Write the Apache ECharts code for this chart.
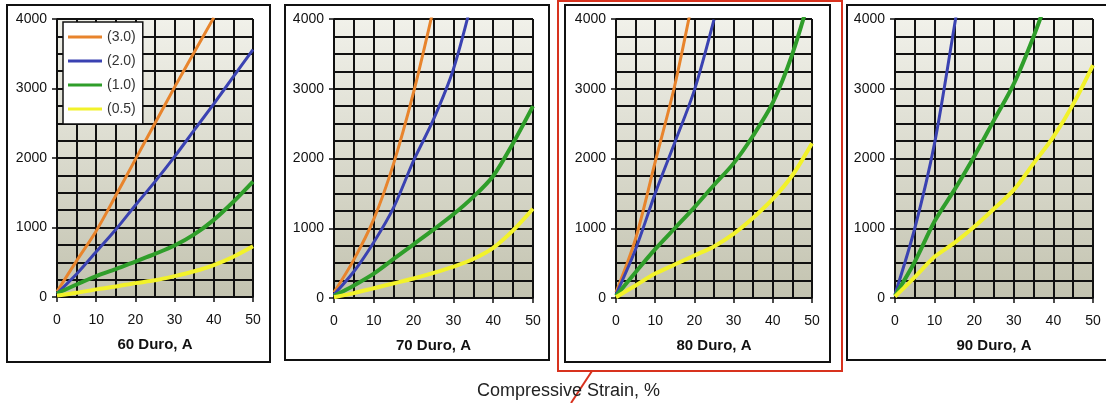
<!DOCTYPE html>
<html>
<head>
<meta charset="utf-8">
<style>
html,body{margin:0;padding:0;background:#fff;}
#chart{width:1106px;height:403px;}
</style>
<script src="https://cdn.jsdelivr.net/npm/echarts@6/dist/echarts.min.js"></script>
</head>
<body>
<div id="chart"></div>
<script>
// ---- data ----
const strain = [0, 5, 10, 15, 20, 25, 30, 35, 40, 45, 50];
const panelNames = ['60 Duro, A', '70 Duro, A', '80 Duro, A', '90 Duro, A'];
const seriesNames = ['(3.0)', '(2.0)', '(1.0)', '(0.5)'];
const yTicks = [0, 1000, 2000, 3000, 4000];
const xTicks = [0, 10, 20, 30, 40, 50];

// 60 Duro
const d60_30 = [80, 520, 950, 1460, 1980, 2500, 3020, 3520, 4020];
const d60_20 = [50, 330, 650, 970, 1320, 1660, 2020, 2400, 2780, 3170, 3560];
const d60_10 = [50, 180, 300, 400, 510, 620, 740, 900, 1110, 1370, 1660];
const d60_05 = [20, 60, 110, 150, 200, 240, 300, 370, 460, 580, 730];
// 70 Duro
const d70_30 = [80, 550, 1130, 1930, 2950, 4150];
const d70_20 = [50, 380, 800, 1300, 1970, 2560, 3280, 4340];
const d70_10 = [30, 180, 350, 560, 770, 980, 1200, 1450, 1750, 2220, 2750];
const d70_05 = [10, 70, 140, 210, 280, 360, 450, 560, 720, 970, 1280];
// 80 Duro
const d80_30 = [80, 850, 1950, 3050, 4400];
const d80_20 = [50, 700, 1500, 2230, 2980, 3990];
const d80_10 = [30, 370, 700, 1000, 1300, 1620, 1930, 2330, 2800, 3500, 4430];
const d80_05 = [10, 180, 350, 480, 610, 740, 920, 1150, 1420, 1760, 2220];
// 90 Duro
const d90_30 = [];
const d90_20 = [50, 1000, 2220, 3900, 5600];
const d90_10 = [30, 520, 1100, 1550, 2030, 2550, 3070, 3750, 4530];
const d90_05 = [20, 300, 590, 790, 1020, 1280, 1550, 1930, 2310, 2780, 3340];

const panelData = [
  [d60_30, d60_20, d60_10, d60_05],
  [d70_30, d70_20, d70_10, d70_05],
  [d80_30, d80_20, d80_10, d80_05],
  [d90_30, d90_20, d90_10, d90_05]
];

// ---- styling ----
const colors = ['#e8842c', '#3a42b2', '#2f9e2a', '#f2f22a'];
const widths = [3, 3, 4, 4];
const gridPos = [
  {left: 57, top: 19, width: 196, height: 278},
  {left: 334, top: 19, width: 199, height: 279},
  {left: 616, top: 19, width: 196, height: 279},
  {left: 895, top: 19, width: 198, height: 279}
];
const bg = {
  type: 'linear', x: 0, y: 0, x2: 0, y2: 1,
  colorStops: [{offset: 0, color: '#f1f1ea'}, {offset: 1, color: '#c3c3b0'}]
};
const font = 'Arial, "Liberation Sans", sans-serif';

const grids = gridPos.map(g => Object.assign({backgroundColor: bg, show: true, borderWidth: 0}, g));
const lineCol = '#111';
const xAxes = panelNames.map((n, i) => ({
  type: 'value', gridIndex: i, min: xTicks[0], max: xTicks[xTicks.length - 1], interval: 10,
  name: n, nameLocation: 'middle', nameGap: 40,
  nameTextStyle: {fontFamily: font, fontSize: 15, fontWeight: 'bold', color: '#111'},
  axisLine: {show: true, lineStyle: {color: lineCol, width: 1.5}},
  axisTick: {show: true, inside: false, length: 5, lineStyle: {color: lineCol, width: 1.5}},
  axisLabel: {margin: 16, fontFamily: font, fontSize: 14, color: '#111'},
  splitLine: {show: true, lineStyle: {color: lineCol, width: 2}},
  minorTick: {show: false, splitNumber: 2},
  minorSplitLine: {show: true, lineStyle: {color: lineCol, width: 2}}
}));
const yAxes = panelNames.map((n, i) => ({
  type: 'value', gridIndex: i, min: yTicks[0], max: yTicks[yTicks.length - 1], interval: 1000,
  axisLine: {show: true, lineStyle: {color: lineCol, width: 1.5}},
  axisTick: {show: true, inside: false, length: 5, lineStyle: {color: lineCol, width: 1.5}},
  axisLabel: {margin: 10, fontFamily: font, fontSize: 14, color: '#111', formatter: v => String(v)},
  splitLine: {show: true, lineStyle: {color: lineCol, width: 2}},
  minorTick: {show: false, splitNumber: 4},
  minorSplitLine: {show: true, lineStyle: {color: lineCol, width: 2}}
}));

const series = [];
panelData.forEach((arrs, p) => {
  arrs.forEach((vals, s) => {
    series.push({
      type: 'line', name: seriesNames[s], xAxisIndex: p, yAxisIndex: p,
      data: vals.map((v, k) => [strain[k], v]),
      showSymbol: false, symbol: 'none', smooth: 0.3, clip: true,
      lineStyle: {color: colors[s], width: widths[s]},
      itemStyle: {color: colors[s]},
      z: 3 + s
    });
  });
});

const chart = echarts.init(document.getElementById('chart'), null, {renderer: 'canvas'});
chart.setOption({
  animation: false,
  backgroundColor: '#fff',
  color: colors,
  grid: grids,
  xAxis: xAxes,
  yAxis: yAxes,
  series: series,
  legend: {
    data: seriesNames.map((n, i) => ({name: n, itemStyle: {color: colors[i]}})),
    orient: 'vertical', left: 63, top: 22,
    icon: 'rect', itemWidth: 34, itemHeight: 3, itemGap: 10,
    padding: [8, 7, 8, 5],
    backgroundColor: '#fff', borderColor: '#111', borderWidth: 1.5,
    textStyle: {fontFamily: font, fontSize: 14, color: '#333'},
    selectedMode: false
  },
  title: {
    text: 'Compressive Strain, %', left: 472, top: 377,
    textStyle: {fontFamily: font, fontSize: 18, fontWeight: 'normal', color: '#222'}
  },
  graphic: [
    {type: 'rect', shape: {x: 7, y: 5, width: 263, height: 357}, style: {fill: 'none', stroke: '#111', lineWidth: 2}, silent: true},
    {type: 'rect', shape: {x: 285, y: 5, width: 264, height: 355}, style: {fill: 'none', stroke: '#111', lineWidth: 2}, silent: true},
    {type: 'rect', shape: {x: 565, y: 5, width: 265, height: 357}, style: {fill: 'none', stroke: '#111', lineWidth: 2}, silent: true},
    {type: 'rect', shape: {x: 847, y: 5, width: 270, height: 355}, style: {fill: 'none', stroke: '#111', lineWidth: 2}, silent: true},
    {type: 'rect', shape: {x: 558, y: 1, width: 284, height: 370}, style: {fill: 'none', stroke: '#d8321e', lineWidth: 2}, silent: true},
    {type: 'line', shape: {x1: 592, y1: 371, x2: 571, y2: 403}, style: {stroke: '#d8321e', lineWidth: 2}, silent: true}
  ]
});
</script>
</body>
</html>
